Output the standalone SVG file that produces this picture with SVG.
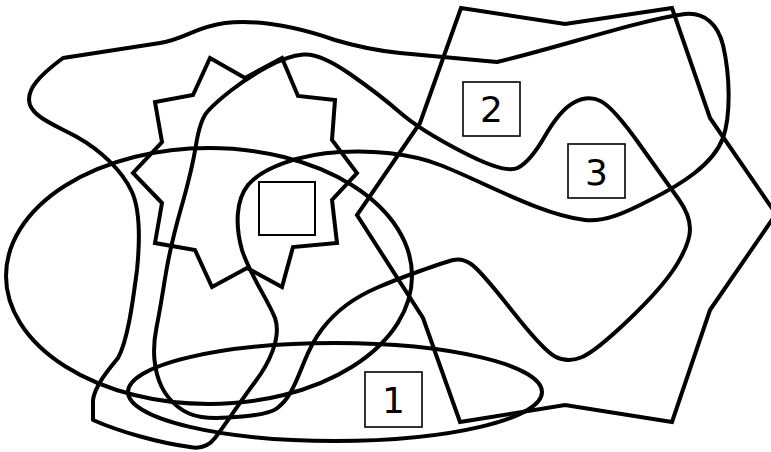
<svg xmlns="http://www.w3.org/2000/svg" width="771" height="452" viewBox="0 0 771 452">
<style>
.ln{fill:none;stroke:#000;stroke-width:4;stroke-linejoin:round;stroke-linecap:round}
.pg{fill:none;stroke:#000;stroke-width:4;stroke-linejoin:miter}
.box{fill:#fff;stroke:#000;stroke-width:1.6}
.lbl{font-family:"DejaVu Sans","Liberation Sans",sans-serif;font-size:36px;fill:#000;text-anchor:middle}
</style>
<rect x="0" y="0" width="771" height="452" fill="#fff"/>
<g id="connectors">
<g id="ellipse-left"><ellipse class="ln" cx="209" cy="276" rx="203" ry="128"/></g>
<g id="ellipse-bottom"><ellipse class="ln" cx="335" cy="392" rx="207" ry="49"/></g>
<g id="polygon-right"><path class="pg" d="M461,8 L565,24 L672,8 L710,118 L776,214 L710,310 L672,422 L565,405 L460,422 L423,318 L357,215 L420,123 Z"/></g>
<g id="star"><path class="pg" d="M210,58 L245,78 L282,58 L298,96 L335,100 L332,140 L357,173 L332,200 L337,243 L293,247 L282,287 L247,268 L212,287 L195,250 L155,243 L162,203 L133,173 L162,142 L155,102 L193,95 Z"/></g>
<g id="blob"><path class="ln" d="M63,58 L160,43 C185,39 195,27 225,23 C260,19 300,28 335,40 C355,46 380,51 400,53 L497,62 C560,47 640,20 685,14 C705,12 718,25 723,45 C730,75 731,115 723,138 C713,165 680,185 650,200 C625,213 605,222 585,220 C540,215 480,180 440,165 C410,153 370,150 340,152 C300,154 262,168 248,185 C236,200 235,225 242,250 C250,275 268,300 275,318 C282,338 268,365 255,382 C240,402 225,425 215,438 C208,447 200,449 190,447 C160,443 120,432 93,420 L93,400 C95,385 110,368 118,358 C128,340 133,300 137,270 C140,240 140,210 132,192 C122,170 100,150 77,137 C55,125 35,118 30,105 C25,90 40,75 63,58 Z"/></g>
<g id="wave"><path class="ln" d="M196,145 Q192,170 181,208.5 Q170,247 165,278.5 Q160,310 156.5,327.5 Q153,345 154.5,360 Q156,375 161.5,386.5 Q167,398 177.5,406.5 Q188,415 201.5,417 Q215,419 242.5,416.5 Q270,414 277.5,408 Q285,402 290,393.5 Q295,385 303.5,363.5 Q312,342 322.5,328.5 Q333,315 346.5,305 Q360,295 377.5,287.5 Q395,280 420,271 Q445,262 453.5,260 Q462,258 471,264 Q480,270 511.5,310 Q543,350 555,356.5 Q567,363 581,357.5 Q595,352 629,319.5 Q663,287 676.5,265 Q690,243 690,229 Q690,215 678.5,199 Q667,183 640,145 Q613,107 600.5,101 Q588,95 574,102.5 Q560,110 545,136 Q530,162 517.5,168 Q505,174 462.5,152 Q420,130 400,112.5 Q380,95 350,74 Q320,53 303.5,54.5 Q287,56 267,67 Q247,78 231,90.5 Q215,103 207.5,111.5 Q200,120 196,145 Z"/></g>
</g>
<g id="box-empty"><rect x="259" y="182" width="56" height="53" fill="#fff" stroke="#000" stroke-width="2"/></g>
<g id="label-1"><rect class="box" x="365" y="372" width="57" height="55"/><text class="lbl" x="393.5" y="413">1</text></g>
<g id="label-2"><rect class="box" x="463" y="82" width="57" height="54"/><text class="lbl" x="491.5" y="122">2</text></g>
<g id="label-3"><rect class="box" x="568" y="144" width="57" height="54"/><text class="lbl" x="596.5" y="185">3</text></g>
</svg>
